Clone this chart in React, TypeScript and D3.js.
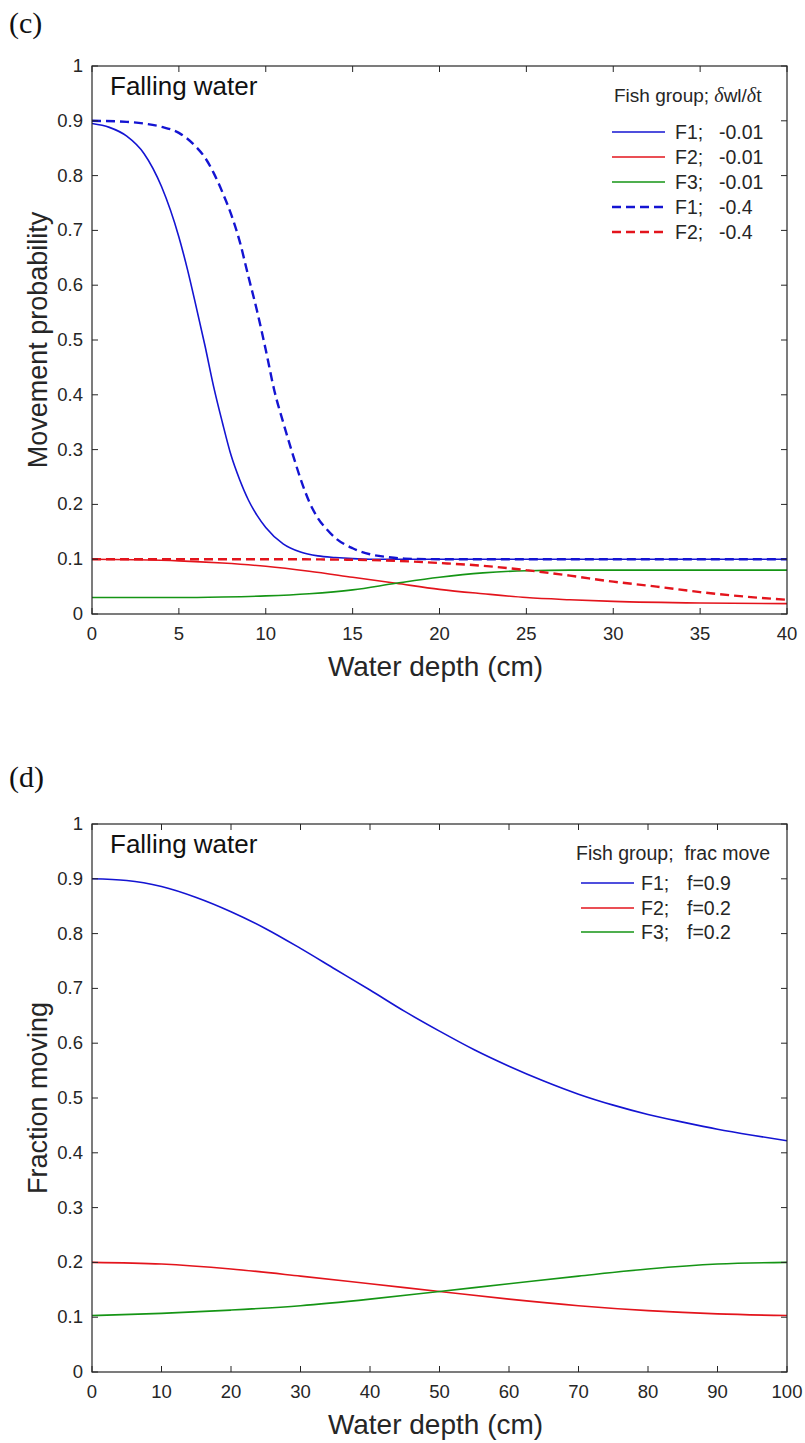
import React from 'react';
import * as d3 from 'd3';

// ---------- Panel (c) data : Movement probability vs water depth ----------
const cF1SlowDepth = [0, 1, 2, 3, 4, 5, 5.5, 6, 6.5, 7, 7.5, 8, 8.5, 9, 9.5, 10, 11, 12, 13, 14, 15, 16, 18, 20, 25, 30, 35, 40];
const cF1SlowProb = [0.895, 0.888, 0.872, 0.84, 0.78, 0.688, 0.628, 0.56, 0.49, 0.415, 0.35, 0.29, 0.245, 0.208, 0.18, 0.158, 0.128, 0.113, 0.106, 0.103, 0.101, 0.1, 0.1, 0.1, 0.1, 0.1, 0.1, 0.1];

const cF2SlowDepth = [0, 2.5, 5, 7.5, 10, 12.5, 15, 17.5, 20, 22.5, 25, 27.5, 30, 35, 40];
const cF2SlowProb = [0.1, 0.099, 0.097, 0.093, 0.087, 0.078, 0.067, 0.056, 0.045, 0.037, 0.03, 0.026, 0.023, 0.02, 0.019];

const cF3SlowDepth = [0, 5, 7.5, 10, 12.5, 15, 17.5, 20, 22.5, 25, 27.5, 30, 35, 40];
const cF3SlowProb = [0.03, 0.03, 0.031, 0.033, 0.037, 0.044, 0.056, 0.067, 0.075, 0.079, 0.08, 0.08, 0.08, 0.08];

const cF1FastDepth = [0, 2, 3, 4, 5, 6, 6.5, 7, 7.5, 8, 8.5, 9, 9.5, 10, 10.5, 11, 11.5, 12, 12.5, 13, 13.5, 14, 15, 16, 17, 18, 20, 25, 30, 35, 40];
const cF1FastProb = [0.9, 0.898, 0.895, 0.889, 0.878, 0.852, 0.833, 0.805, 0.77, 0.73, 0.68, 0.616, 0.553, 0.482, 0.407, 0.35, 0.297, 0.247, 0.205, 0.175, 0.155, 0.139, 0.12, 0.109, 0.104, 0.101, 0.1, 0.1, 0.1, 0.1, 0.1];

const cF2FastDepth = [0, 10, 15, 17.5, 20, 22.5, 25, 27.5, 30, 32.5, 35, 37.5, 40];
const cF2FastProb = [0.1, 0.1, 0.099, 0.097, 0.093, 0.088, 0.08, 0.07, 0.059, 0.05, 0.04, 0.032, 0.026];

const cLegendGroups = ['F1;', 'F2;', 'F3;', 'F1;', 'F2;'];
const cLegendRates = ['-0.01', '-0.01', '-0.01', '-0.4', '-0.4'];
const cXTicks = [0, 5, 10, 15, 20, 25, 30, 35, 40];

// ---------- Panel (d) data : Fraction moving vs water depth ----------
const dF1Depth = [0, 5, 10, 15, 20, 25, 30, 35, 40, 45, 50, 55, 60, 65, 70, 75, 80, 85, 90, 95, 100];
const dF1Frac = [0.9, 0.897, 0.886, 0.866, 0.84, 0.809, 0.773, 0.735, 0.697, 0.658, 0.622, 0.588, 0.558, 0.531, 0.507, 0.487, 0.47, 0.456, 0.443, 0.432, 0.422];
const dF23Depth = [0, 10, 20, 30, 40, 50, 60, 70, 80, 90, 100];
const dF2Frac = [0.2, 0.197, 0.188, 0.175, 0.161, 0.147, 0.133, 0.121, 0.112, 0.106, 0.103];
const dF3Frac = [0.103, 0.107, 0.113, 0.121, 0.133, 0.147, 0.161, 0.175, 0.188, 0.197, 0.2];

const dLegendGroups = ['F1;', 'F2;', 'F3;'];
const dLegendFracs = ['f=0.9', 'f=0.2', 'f=0.2'];
const dXTicks = [0, 10, 20, 30, 40, 50, 60, 70, 80, 90, 100];

const yTicks = [0, 0.1, 0.2, 0.3, 0.4, 0.5, 0.6, 0.7, 0.8, 0.9, 1];

const BLUE = '#1414d2';
const RED = '#e3141c';
const GREEN = '#159515';
const AXIS = '#262626';
const TEXT = '#262626';
const SANS = '"Liberation Sans", Arial, Helvetica, sans-serif';
const SERIF = '"Liberation Serif", "Times New Roman", serif';

type Series = { depth: number[]; vals: number[]; color: string; dashed: boolean };

const LEFT = 92;
const RIGHT = 787;
const PH = 548;
const TICK = 6;

function Panel(props: {
  top: number;
  xMax: number;
  xTicks: number[];
  yLabel: string;
  series: Series[];
  id: string;
  children?: React.ReactNode;
}) {
  const { top, xMax, xTicks, yLabel, series, id } = props;
  const bottom = top + PH;
  const x = d3.scaleLinear().domain([0, xMax]).range([LEFT, RIGHT]);
  const y = d3.scaleLinear().domain([0, 1]).range([bottom, top]);
  const line = d3
    .line<[number, number]>()
    .x((p) => x(p[0]))
    .y((p) => y(p[1]))
    .curve(d3.curveMonotoneX);
  return (
    <g>
      <defs>
        <clipPath id={id}>
          <rect x={LEFT} y={top} width={RIGHT - LEFT} height={PH} />
        </clipPath>
      </defs>
      <rect x={LEFT} y={top} width={RIGHT - LEFT} height={PH} fill="#fff" />
      <g clipPath={`url(#${id})`}>
        {series.map((s, i) => (
          <path
            key={i}
            d={line(s.depth.map((d, k) => [d, s.vals[k]] as [number, number])) || ''}
            fill="none"
            stroke={s.color}
            strokeWidth={s.dashed ? 2.4 : 1.6}
            strokeDasharray={s.dashed ? '9 5' : undefined}
          />
        ))}
      </g>
      {xTicks.map((t) => (
        <g key={'xt' + t}>
          <line x1={x(t)} x2={x(t)} y1={bottom} y2={bottom - TICK} stroke={AXIS} strokeWidth={1} />
          <line x1={x(t)} x2={x(t)} y1={top} y2={top + TICK} stroke={AXIS} strokeWidth={1} />
          <text x={x(t)} y={bottom + 26} textAnchor="middle" fontSize={18.5} fontFamily={SANS} fill={TEXT}>
            {t}
          </text>
        </g>
      ))}
      {yTicks.map((t) => (
        <g key={'yt' + t}>
          <line x1={LEFT} x2={LEFT + TICK} y1={y(t)} y2={y(t)} stroke={AXIS} strokeWidth={1} />
          <line x1={RIGHT} x2={RIGHT - TICK} y1={y(t)} y2={y(t)} stroke={AXIS} strokeWidth={1} />
          <text x={LEFT - 9} y={y(t) + 6} textAnchor="end" fontSize={18.5} fontFamily={SANS} fill={TEXT}>
            {d3.format('~g')(t)}
          </text>
        </g>
      ))}
      <rect x={LEFT} y={top} width={RIGHT - LEFT} height={PH} fill="none" stroke={AXIS} strokeWidth={1.2} />
      <text x={(LEFT + RIGHT) / 2 - 4} y={bottom + 62} textAnchor="middle" fontSize={28} fontFamily={SANS} fill={TEXT}>
        Water depth (cm)
      </text>
      <text
        transform={`translate(47, ${(top + bottom) / 2}) rotate(-90)`}
        textAnchor="middle"
        fontSize={27}
        fontFamily={SANS}
        fill={TEXT}
      >
        {yLabel}
      </text>
      <text x={110} y={top + 29} fontSize={26} fontFamily={SANS} fill="#111">
        Falling water
      </text>
      {props.children}
    </g>
  );
}

export default function App() {
  const cSeries: Series[] = [
    { depth: cF1SlowDepth, vals: cF1SlowProb, color: BLUE, dashed: false },
    { depth: cF2SlowDepth, vals: cF2SlowProb, color: RED, dashed: false },
    { depth: cF3SlowDepth, vals: cF3SlowProb, color: GREEN, dashed: false },
    { depth: cF1FastDepth, vals: cF1FastProb, color: BLUE, dashed: true },
    { depth: cF2FastDepth, vals: cF2FastProb, color: RED, dashed: true },
  ];
  const dSeries: Series[] = [
    { depth: dF1Depth, vals: dF1Frac, color: BLUE, dashed: false },
    { depth: dF23Depth, vals: dF2Frac, color: RED, dashed: false },
    { depth: dF23Depth, vals: dF3Frac, color: GREEN, dashed: false },
  ];
  const cTop = 66;
  const dTop = 824;
  const cRows = [132, 157, 182, 207, 232];
  const dRows = [883, 908, 932];
  return (
    <svg
      width={805}
      height={1443}
      style={{ position: 'absolute', left: 0, top: 0, background: '#fff' }}
      xmlns="http://www.w3.org/2000/svg"
    >
      <rect x={0} y={0} width={805} height={1443} fill="#fff" />
      <text x={9} y={33} fontSize={30} fontFamily={SERIF} fill="#111">
        (c)
      </text>
      <text x={9} y={787} fontSize={30} fontFamily={SERIF} fill="#111">
        (d)
      </text>
      <Panel top={cTop} xMax={40} xTicks={cXTicks} yLabel="Movement probability" series={cSeries} id="clipc">
        <text x={614} y={102} fontSize={19} fontFamily={SANS} fill={TEXT}>
          {'Fish group; '}
          <tspan fontFamily={SERIF} fontStyle="italic" fontSize={20}>δ</tspan>
          <tspan>wl/</tspan>
          <tspan fontFamily={SERIF} fontStyle="italic" fontSize={20}>δ</tspan>
          <tspan fontFamily={SERIF} fontSize={20}>t</tspan>
        </text>
        {cSeries.map((s, i) => (
          <g key={i}>
            <line
              x1={612}
              x2={665}
              y1={cRows[i]}
              y2={cRows[i]}
              stroke={s.color}
              strokeWidth={s.dashed ? 2.4 : 1.6}
              strokeDasharray={s.dashed ? '9 5' : undefined}
            />
            <text x={675} y={cRows[i] + 7} fontSize={19.5} fontFamily={SANS} fill={TEXT}>
              {cLegendGroups[i]}
            </text>
            <text x={719} y={cRows[i] + 7} fontSize={19.5} fontFamily={SANS} fill={TEXT}>
              {cLegendRates[i]}
            </text>
          </g>
        ))}
      </Panel>
      <Panel top={dTop} xMax={100} xTicks={dXTicks} yLabel="Fraction moving" series={dSeries} id="clipd">
        <text x={576} y={860} fontSize={19.5} fontFamily={SANS} fill={TEXT}>
          {'Fish group;\u00a0\u00a0frac move'}
        </text>
        {dSeries.map((s, i) => (
          <g key={i}>
            <line x1={581} x2={634} y1={dRows[i]} y2={dRows[i]} stroke={s.color} strokeWidth={1.6} />
            <text x={641} y={dRows[i] + 7} fontSize={19.5} fontFamily={SANS} fill={TEXT}>
              {dLegendGroups[i]}
            </text>
            <text x={687} y={dRows[i] + 7} fontSize={19.5} fontFamily={SANS} fill={TEXT}>
              {dLegendFracs[i]}
            </text>
          </g>
        ))}
      </Panel>
    </svg>
  );
}
